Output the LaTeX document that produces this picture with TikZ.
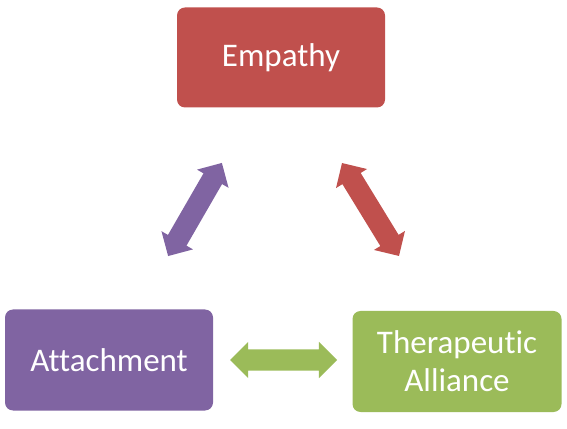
\documentclass[tikz,border=0pt]{standalone}
\usepackage{fontspec}
\setmainfont[Ligatures={NoCommon}]{Carlito}
\usetikzlibrary{shapes.arrows}
\definecolor{cred}{HTML}{C0504D}
\definecolor{cpurple}{HTML}{8064A2}
\definecolor{cgreen}{HTML}{9BBB59}
\begin{document}
\begin{tikzpicture}[x=1pt,y=1pt,
  box/.style={rounded corners=8pt, minimum width=208pt, minimum height=100pt, inner sep=0pt,
    text=white, font=\fontsize{33}{38}\selectfont, align=center},
  darrow/.style={double arrow, double arrow head extend=7.5pt, double arrow tip angle=90,
    minimum width=36pt, inner xsep=0pt, inner ysep=10.5pt, draw=none}]
\useasboundingbox (0,0) rectangle (567,428);
\node[box, fill=cred] (emp) at (281,370.5) {Empathy};
\node[box, fill=cpurple, minimum height=101pt] (att) at (109,68) {Attachment};
\node[box, fill=cgreen, minimum width=209pt, minimum height=101pt] (ther) at (457,66.5) {Therapeutic\\Alliance};
\node[darrow, fill=cpurple, minimum height=107.5pt, rotate=60] (a1) at (195,218.5) {};
\node[darrow, fill=cred, minimum height=109pt, rotate=-58.5] (a2) at (370.5,218.5) {};
\node[darrow, fill=cgreen, minimum height=107pt] (a3) at (283.5,68) {};
\end{tikzpicture}
\end{document}
